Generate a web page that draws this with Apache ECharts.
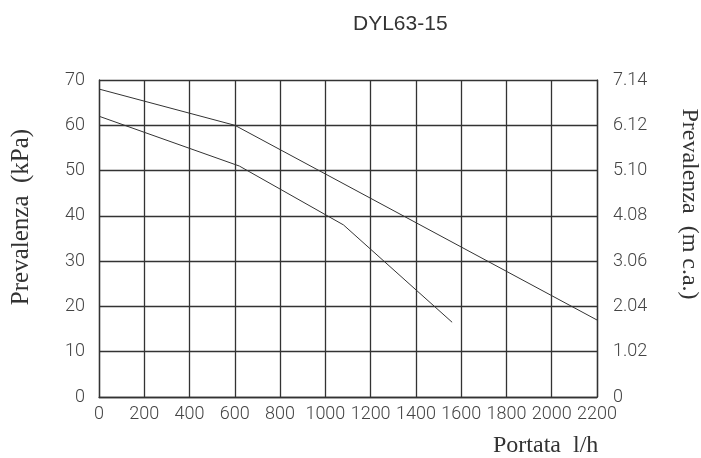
<!DOCTYPE html>
<html>
<head>
<meta charset="utf-8">
<script src="https://cdn.jsdelivr.net/npm/echarts@6/dist/echarts.min.js"></script>
<style>
  html, body { margin: 0; padding: 0; background: #fff; }
  #chart { width: 701px; height: 458px; }
</style>
</head>
<body>
<div id="chart"></div>
<script>
// portata (l/h) ticks and the two pump curves (kPa)
const xTicks = [0, 200, 400, 600, 800, 1000, 1200, 1400, 1600, 1800, 2000, 2200];
const kpaTicks = [0, 10, 20, 30, 40, 50, 60, 70];
const mcaTicks = [0, 1.02, 2.04, 3.06, 4.08, 5.10, 6.12, 7.14];

const curveHigh = [[0, 68], [600, 60], [2200, 17]];
const curveLow = [[0, 62], [620, 51], [1080, 38], [1560, 16.5]];

const tickFont = { fontFamily: 'Roboto', fontWeight: 300, fontSize: 18, color: '#444' };
const nameFont = { fontFamily: 'Liberation Serif', fontSize: 24, fill: '#333' };
const gridLine = { color: '#333', width: 1.3 };

const chart = echarts.init(document.getElementById('chart'));

chart.setOption({
  animation: false,
  title: {
    text: 'DYL63-15',
    left: 348,
    top: 9,
    textStyle: { fontFamily: 'Liberation Sans', fontWeight: 'normal', fontSize: 21, color: '#333' }
  },
  grid: { left: 99, right: 104, top: 80, bottom: 61 },
  xAxis: {
    type: 'value',
    min: xTicks[0],
    max: xTicks[xTicks.length - 1],
    interval: 200,
    axisLine: { lineStyle: gridLine },
    axisTick: { show: false },
    axisLabel: Object.assign({ margin: 8, formatter: v => String(v) }, tickFont),
    splitLine: { lineStyle: gridLine }
  },
  yAxis: [
    {
      type: 'value',
      min: kpaTicks[0],
      max: kpaTicks[kpaTicks.length - 1],
      interval: 10,
      axisLine: { show: true, lineStyle: gridLine },
      axisTick: { show: false },
      axisLabel: Object.assign({ margin: 14 }, tickFont),
      splitLine: { lineStyle: gridLine }
    },
    {
      type: 'value',
      position: 'right',
      min: mcaTicks[0],
      max: mcaTicks[mcaTicks.length - 1],
      interval: 1.02,
      axisLine: { show: true, lineStyle: gridLine },
      axisTick: { show: false },
      axisLabel: Object.assign({
        margin: 16,
        formatter: v => (v === 0 ? '0' : v.toFixed(2))
      }, tickFont),
      splitLine: { show: false }
    }
  ],
  series: [
    {
      type: 'line',
      data: curveHigh,
      symbol: 'none',
      lineStyle: { color: '#333', width: 1 }
    },
    {
      type: 'line',
      data: curveLow,
      symbol: 'none',
      lineStyle: { color: '#333', width: 1 }
    }
  ],
  graphic: [
    {
      type: 'text',
      x: 21, y: 217,
      rotation: Math.PI / 2,
      style: Object.assign({ text: 'Prevalenza  (kPa)', align: 'center', verticalAlign: 'middle' }, nameFont, { fontSize: 25 })
    },
    {
      type: 'text',
      x: 689, y: 204,
      rotation: -Math.PI / 2,
      style: Object.assign({ text: 'Prevalenza  (m c.a.)', align: 'center', verticalAlign: 'middle' }, nameFont)
    },
    {
      type: 'text',
      x: 493, y: 446,
      style: Object.assign({ text: 'Portata  l/h', align: 'left', verticalAlign: 'middle' }, nameFont)
    }
  ]
});
</script>
</body>
</html>
